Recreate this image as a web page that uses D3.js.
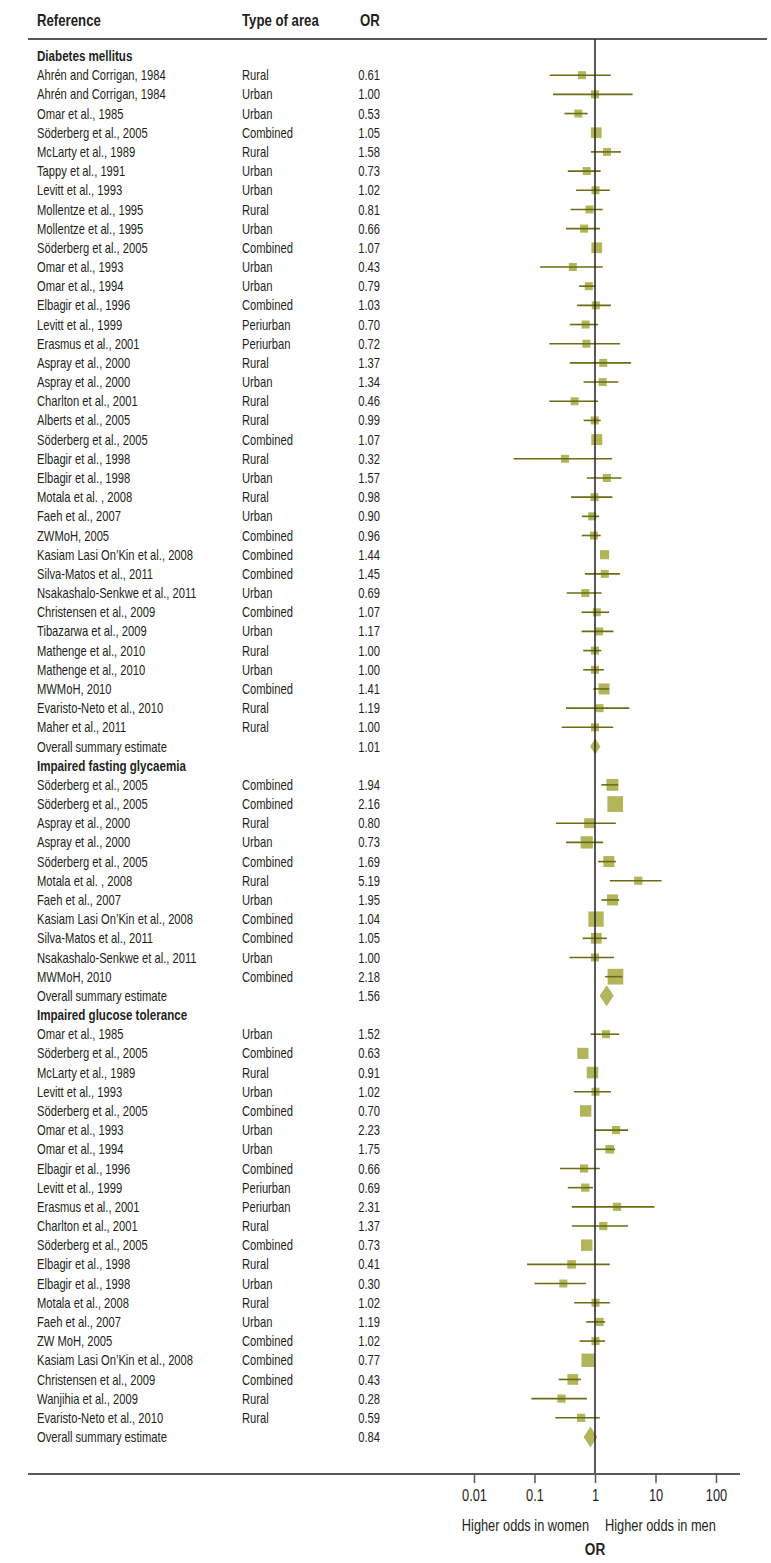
<!DOCTYPE html>
<html>
<head>
<meta charset="utf-8">
<script src="https://cdn.jsdelivr.net/npm/d3@7"></script>
<style>
  body { margin: 0; background: #fff; }
  text { font-family: "Liberation Sans", Arial, sans-serif; fill: #231f20; }
</style>
</head>
<body>
<script>
// Sections
const sections = ["Diabetes mellitus", "Impaired fasting glycaemia", "Impaired glucose tolerance"];

// Diabetes mellitus
const dmRefs = ["Ahrén and Corrigan, 1984", "Ahrén and Corrigan, 1984", "Omar et al., 1985", "Söderberg et al., 2005",
  "McLarty et al., 1989", "Tappy et al., 1991", "Levitt et al., 1993", "Mollentze et al., 1995", "Mollentze et al., 1995",
  "Söderberg et al., 2005", "Omar et al., 1993", "Omar et al., 1994", "Elbagir et al., 1996", "Levitt et al., 1999",
  "Erasmus et al., 2001", "Aspray et al., 2000", "Aspray et al., 2000", "Charlton et al., 2001", "Alberts et al., 2005",
  "Söderberg et al., 2005", "Elbagir et al., 1998", "Elbagir et al., 1998", "Motala et al. , 2008", "Faeh et al., 2007",
  "ZWMoH, 2005", "Kasiam Lasi On’Kin et al., 2008", "Silva-Matos et al., 2011", "Nsakashalo-Senkwe et al., 2011",
  "Christensen et al., 2009", "Tibazarwa et al., 2009", "Mathenge et al., 2010", "Mathenge et al., 2010", "MWMoH, 2010",
  "Evaristo-Neto et al., 2010", "Maher et al., 2011"];
const dmAreas = ["Rural", "Urban", "Urban", "Combined", "Rural", "Urban", "Urban", "Rural", "Urban", "Combined",
  "Urban", "Urban", "Combined", "Periurban", "Periurban", "Rural", "Urban", "Rural", "Rural", "Combined",
  "Rural", "Urban", "Rural", "Urban", "Combined", "Combined", "Combined", "Urban", "Combined", "Urban",
  "Rural", "Urban", "Combined", "Rural", "Rural"];
const dmOR = [0.61, 1.00, 0.53, 1.05, 1.58, 0.73, 1.02, 0.81, 0.66, 1.07, 0.43, 0.79, 1.03, 0.70, 0.72, 1.37, 1.34,
  0.46, 0.99, 1.07, 0.32, 1.57, 0.98, 0.90, 0.96, 1.44, 1.45, 0.69, 1.07, 1.17, 1.00, 1.00, 1.41, 1.19, 1.00];
const dmLow = [0.178, 0.202, 0.313, null, 0.858, 0.355, 0.488, 0.394, 0.332, null, 0.124, 0.547, 0.507, 0.383, 0.176,
  0.383, 0.648, 0.176, 0.648, null, 0.045, 0.736, 0.403, 0.607, 0.607, null, 0.681, 0.341, 0.60, 0.60, 0.638, 0.638,
  0.937, 0.332, 0.282];
const dmHigh = [1.83, 4.18, 0.756, null, 2.68, 1.24, 1.76, 1.34, 1.21, null, 1.34, 1.03, 1.83, 1.12, 2.58, 3.94, 2.44,
  1.12, 1.24, null, 1.92, 2.74, 1.94, 1.17, 1.24, null, 2.58, 1.29, 1.71, 2.02, 1.27, 1.40, 1.71, 3.69, 2.0];
const dmWeight = [1, 1, 1, 1.8, 1, 1, 1, 1, 1, 1.8, 1, 1, 1, 1, 1, 1, 1, 1, 1, 1.9, 1, 1, 1, 1, 1, 1.3, 1, 1, 1, 1,
  1, 1, 1.9, 1, 1];

// Impaired fasting glycaemia
const ifgRefs = ["Söderberg et al., 2005", "Söderberg et al., 2005", "Aspray et al., 2000", "Aspray et al., 2000",
  "Söderberg et al., 2005", "Motala et al. , 2008", "Faeh et al., 2007", "Kasiam Lasi On’Kin et al., 2008",
  "Silva-Matos et al., 2011", "Nsakashalo-Senkwe et al., 2011", "MWMoH, 2010"];
const ifgAreas = ["Combined", "Combined", "Rural", "Urban", "Combined", "Rural", "Urban", "Combined", "Combined",
  "Urban", "Combined"];
const ifgOR = [1.94, 2.16, 0.80, 0.73, 1.69, 5.19, 1.95, 1.04, 1.05, 1.00, 2.18];
const ifgLow = [1.27, null, 0.226, 0.332, 1.12, 1.76, 1.27, null, 0.624, 0.379, 1.47];
const ifgHigh = [2.42, null, 2.21, 1.36, 2.21, 12.6, 2.51, null, 1.57, 2.07, 2.85];
const ifgWeight = [2.2, 3.85, 1.55, 2.35, 1.9, 1.05, 1.9, 3.65, 1.8, 1, 3.85];

// Impaired glucose tolerance
const igtRefs = ["Omar et al., 1985", "Söderberg et al., 2005", "McLarty et al., 1989", "Levitt et al., 1993",
  "Söderberg et al., 2005", "Omar et al., 1993", "Omar et al., 1994", "Elbagir et al., 1996", "Levitt et al., 1999",
  "Erasmus et al., 2001", "Charlton et al., 2001", "Söderberg et al., 2005", "Elbagir et al., 1998",
  "Elbagir et al., 1998", "Motala et al., 2008", "Faeh et al., 2007", "ZW MoH, 2005",
  "Kasiam Lasi On’Kin et al., 2008", "Christensen et al., 2009", "Wanjihia et al., 2009", "Evaristo-Neto et al., 2010"];
const igtAreas = ["Urban", "Combined", "Rural", "Urban", "Combined", "Urban", "Urban", "Combined", "Periurban",
  "Periurban", "Rural", "Combined", "Rural", "Urban", "Rural", "Urban", "Combined", "Combined", "Combined",
  "Rural", "Rural"];
const igtOR = [1.52, 0.63, 0.91, 1.02, 0.70, 2.23, 1.75, 0.66, 0.69, 2.31, 1.37, 0.73, 0.41, 0.30, 1.02, 1.19, 1.02,
  0.77, 0.43, 0.28, 0.59];
const igtLow = [0.848, null, null, 0.447, null, 0.99, 1.03, 0.264, 0.355, 0.414, 0.414, null, 0.0756, 0.10, 0.452,
  0.716, 0.556, null, 0.251, 0.089, 0.221];
const igtHigh = [2.51, null, null, 1.83, null, 3.51, 2.15, 1.20, 0.926, 9.62, 3.51, null, 1.76, 0.708, 1.76, 1.47,
  1.47, null, 0.585, 0.736, 1.20];
const igtWeight = [1, 1.95, 2.1, 1, 2.05, 1.05, 1.15, 1.05, 1.05, 1.05, 1.05, 2.05, 1.15, 1, 1, 1.05, 1, 2.8, 1.8,
  1.05, 1.05];

// Overall summary estimates
const summaryOR = [1.01, 1.56, 0.84];
const summaryLow = [0.83, 1.19, 0.65];
const summaryHigh = [1.23, 2.04, 1.09];

// Axis
const tickValues = [0.01, 0.1, 1, 10, 100];
const tickLabels = ["0.01", "0.1", "1", "10", "100"];

const w = 771;
const h = 1563;
const squeeze = 0.8; // condensed look for the text

const svg = d3.select("body").append("svg").attr("width", w).attr("height", h);

// build the list of lines (headings, studies, summaries)
const groups = [
  [dmRefs, dmAreas, dmOR, dmLow, dmHigh, dmWeight],
  [ifgRefs, ifgAreas, ifgOR, ifgLow, ifgHigh, ifgWeight],
  [igtRefs, igtAreas, igtOR, igtLow, igtHigh, igtWeight]
];
const rows = [];
groups.forEach(function (g, s) {
  rows.push({ type: "heading", label: sections[s], section: s });
  g[0].forEach(function (ref, i) {
    rows.push({ type: "study", label: ref, area: g[1][i], or: g[2][i], lo: g[3][i], hi: g[4][i], wt: g[5][i], section: s });
  });
  rows.push({ type: "summary", label: "Overall summary estimate", or: summaryOR[s], lo: summaryLow[s], hi: summaryHigh[s], section: s });
});

const yScale = d3.scalePoint().domain(d3.range(rows.length)).range([56, 1437]);
const xScale = d3.scaleLog().domain([0.01, 100]).range([474, 716]);
const sizeScale = d3.scaleSqrt().domain([0, 1]).range([0, 8]);

const boxFill = "#b3b55b";
const lineCol = "#6b6c14";

function narrow(x, y) {
  return "translate(" + x + "," + y + ") scale(" + squeeze + ",1)";
}

// header
const header = svg.append("g").attr("font-weight", "bold").attr("font-size", "16.5px");
header.append("text").attr("transform", narrow(37, 26)).text("Reference");
header.append("text").attr("transform", narrow(242, 26)).text("Type of area");
header.append("text").attr("transform", narrow(360, 26)).text("OR");

svg.append("line").attr("x1", 28).attr("x2", 767).attr("y1", 39).attr("y2", 39)
  .attr("stroke", "#58595b").attr("stroke-width", 2);

// text columns
const rowG = svg.selectAll("g.row").data(rows).enter().append("g").attr("class", "row")
  .attr("transform", function (d, i) { return "translate(0," + yScale(i) + ")"; });

rowG.append("text")
  .attr("transform", narrow(37, 0))
  .attr("dy", "0.36em")
  .attr("font-size", function (d) { return d.type === "heading" ? "14.5px" : "14px"; })
  .attr("font-weight", function (d) { return d.type === "heading" ? "bold" : "normal"; })
  .text(function (d) { return d.label; });

rowG.filter(function (d) { return d.type === "study"; }).append("text")
  .attr("transform", narrow(242, 0)).attr("dy", "0.36em").attr("font-size", "14px")
  .text(function (d) { return d.area; });

rowG.filter(function (d) { return d.type !== "heading"; }).append("text")
  .attr("transform", narrow(380, 0)).attr("dy", "0.36em").attr("font-size", "14px").attr("text-anchor", "end")
  .text(function (d) { return d3.format(".2f")(d.or); });

// reference line at OR = 1
svg.append("line").attr("x1", xScale(1)).attr("x2", xScale(1)).attr("y1", 39).attr("y2", 1474)
  .attr("stroke", "#231f20").attr("stroke-width", 1.5);

// study boxes
const studies = rowG.filter(function (d) { return d.type === "study"; });
studies.append("rect")
  .attr("x", function (d) { return xScale(d.or) - sizeScale(d.wt) / 2; })
  .attr("y", function (d) { return -sizeScale(d.wt) / 2; })
  .attr("width", function (d) { return sizeScale(d.wt); })
  .attr("height", function (d) { return sizeScale(d.wt); })
  .attr("fill", boxFill);

// confidence intervals drawn over the boxes
studies.filter(function (d) { return d.lo !== null; }).append("line")
  .attr("x1", function (d) { return xScale(d.lo); })
  .attr("x2", function (d) { return xScale(d.hi); })
  .attr("y1", 0).attr("y2", 0)
  .attr("stroke", lineCol).attr("stroke-width", 1.6);

// summary diamonds
rowG.filter(function (d) { return d.type === "summary"; }).append("path")
  .attr("d", function (d) {
    const hh = d.section === 0 ? 8 : 10.5;
    return "M" + xScale(d.lo) + ",0L" + xScale(d.or) + "," + (-hh) + "L" + xScale(d.hi) + ",0L" + xScale(d.or) + "," + hh + "Z";
  })
  .attr("fill", boxFill);

// x axis
svg.append("line").attr("x1", 28).attr("x2", 740).attr("y1", 1474).attr("y2", 1474)
  .attr("stroke", "#58595b").attr("stroke-width", 2);

const xAxis = d3.axisBottom(xScale)
  .tickValues(tickValues)
  .tickFormat(function (d, i) { return tickLabels[i]; })
  .tickSize(9)
  .tickPadding(7);

const axisG = svg.append("g").attr("transform", "translate(0,1474)").call(xAxis);
axisG.select(".domain").remove();
axisG.selectAll(".tick line").attr("stroke", "#58595b").attr("stroke-width", 1.5);
axisG.selectAll(".tick text")
  .attr("font-size", "16px")
  .attr("font-family", "\"Liberation Sans\", Arial, sans-serif")
  .attr("fill", "#231f20")
  .attr("transform", "scale(" + squeeze + ",1)");

svg.append("text").attr("transform", narrow(xScale(1) - 6, 1531)).attr("text-anchor", "end")
  .attr("font-size", "16px").text("Higher odds in women");
svg.append("text").attr("transform", narrow(xScale(1) + 10, 1531)).attr("text-anchor", "start")
  .attr("font-size", "16px").text("Higher odds in men");
svg.append("text").attr("transform", narrow(xScale(1), 1555)).attr("text-anchor", "middle")
  .attr("font-size", "17px").attr("font-weight", "bold").text("OR");
</script>
</body>
</html>
